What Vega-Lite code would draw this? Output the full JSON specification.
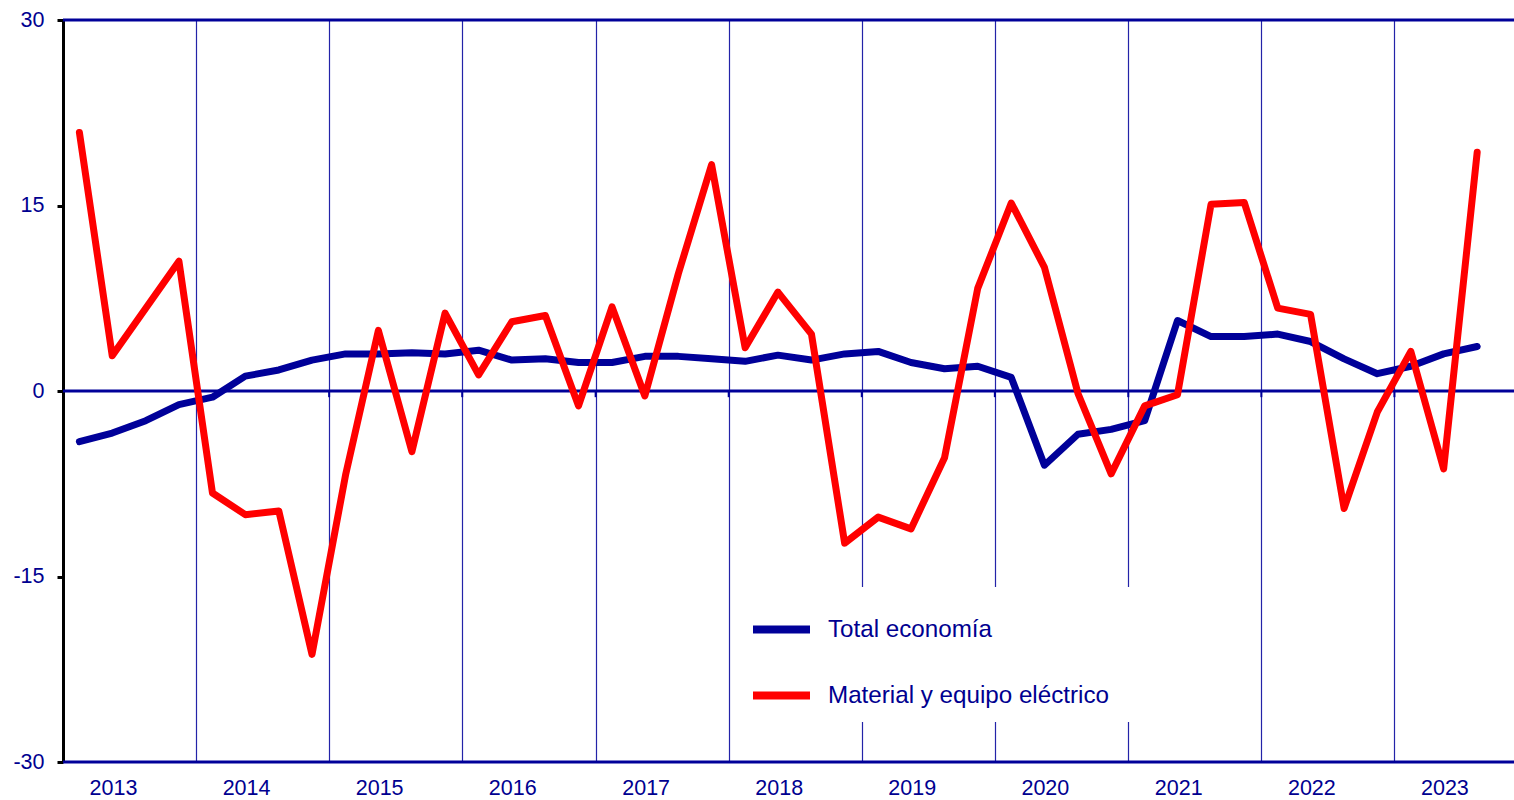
{
  "$schema": "https://vega.github.io/schema/vega-lite/v6.json",
  "width": 1451,
  "height": 742,
  "autosize": {"type": "none"},
  "padding": {"left": 63, "top": 20, "right": 0, "bottom": 38},
  "background": "white",
  "config": {"view": {"stroke": null}, "font": "Liberation Sans"},
  "layer": [
    {
      "data": {"values": [{"v": 30}, {"v": 0}, {"v": -30}]},
      "mark": {"type": "rule", "color": "#000099", "strokeWidth": 3},
      "encoding": {
        "y": {"field": "v", "type": "quantitative", "title": null, "scale": {"domain": [-30, 30], "nice": false, "zero": false}}
      }
    },
    {
      "data": {
        "values": [
          {"inicio": "2014-01-01"}, {"inicio": "2015-01-01"}, {"inicio": "2016-01-01"},
          {"inicio": "2017-01-01"}, {"inicio": "2018-01-01"}, {"inicio": "2019-01-01"},
          {"inicio": "2020-01-01"}, {"inicio": "2021-01-01"}, {"inicio": "2022-01-01"},
          {"inicio": "2023-01-01"}
        ]
      },
      "mark": {"type": "rule", "color": "#000099", "strokeWidth": 2},
      "encoding": {
        "x": {"field": "inicio", "type": "temporal"},
        "y": {"datum": 0, "type": "quantitative"},
        "y2": {"datum": -0.5}
      }
    },
    {
      "data": {
        "values": [
          {"fecha": "2013-02-15", "serie": "Total economía", "valor": -4.1},
          {"fecha": "2013-05-16", "serie": "Total economía", "valor": -3.4},
          {"fecha": "2013-08-16", "serie": "Total economía", "valor": -2.4},
          {"fecha": "2013-11-15", "serie": "Total economía", "valor": -1.1},
          {"fecha": "2014-02-15", "serie": "Total economía", "valor": -0.5},
          {"fecha": "2014-05-16", "serie": "Total economía", "valor": 1.2},
          {"fecha": "2014-08-16", "serie": "Total economía", "valor": 1.7},
          {"fecha": "2014-11-15", "serie": "Total economía", "valor": 2.5},
          {"fecha": "2015-02-15", "serie": "Total economía", "valor": 3.0},
          {"fecha": "2015-05-16", "serie": "Total economía", "valor": 3.0},
          {"fecha": "2015-08-16", "serie": "Total economía", "valor": 3.1},
          {"fecha": "2015-11-15", "serie": "Total economía", "valor": 3.0},
          {"fecha": "2016-02-15", "serie": "Total economía", "valor": 3.3},
          {"fecha": "2016-05-16", "serie": "Total economía", "valor": 2.5},
          {"fecha": "2016-08-16", "serie": "Total economía", "valor": 2.6},
          {"fecha": "2016-11-15", "serie": "Total economía", "valor": 2.3},
          {"fecha": "2017-02-15", "serie": "Total economía", "valor": 2.3},
          {"fecha": "2017-05-16", "serie": "Total economía", "valor": 2.8},
          {"fecha": "2017-08-16", "serie": "Total economía", "valor": 2.8},
          {"fecha": "2017-11-15", "serie": "Total economía", "valor": 2.6},
          {"fecha": "2018-02-15", "serie": "Total economía", "valor": 2.4},
          {"fecha": "2018-05-16", "serie": "Total economía", "valor": 2.9},
          {"fecha": "2018-08-16", "serie": "Total economía", "valor": 2.5},
          {"fecha": "2018-11-15", "serie": "Total economía", "valor": 3.0},
          {"fecha": "2019-02-15", "serie": "Total economía", "valor": 3.2},
          {"fecha": "2019-05-16", "serie": "Total economía", "valor": 2.3},
          {"fecha": "2019-08-16", "serie": "Total economía", "valor": 1.8},
          {"fecha": "2019-11-15", "serie": "Total economía", "valor": 2.0},
          {"fecha": "2020-02-15", "serie": "Total economía", "valor": 1.1},
          {"fecha": "2020-05-16", "serie": "Total economía", "valor": -6.0},
          {"fecha": "2020-08-16", "serie": "Total economía", "valor": -3.5},
          {"fecha": "2020-11-15", "serie": "Total economía", "valor": -3.1},
          {"fecha": "2021-02-15", "serie": "Total economía", "valor": -2.4},
          {"fecha": "2021-05-16", "serie": "Total economía", "valor": 5.7},
          {"fecha": "2021-08-16", "serie": "Total economía", "valor": 4.4},
          {"fecha": "2021-11-15", "serie": "Total economía", "valor": 4.4},
          {"fecha": "2022-02-15", "serie": "Total economía", "valor": 4.6},
          {"fecha": "2022-05-16", "serie": "Total economía", "valor": 4.0},
          {"fecha": "2022-08-16", "serie": "Total economía", "valor": 2.6},
          {"fecha": "2022-11-15", "serie": "Total economía", "valor": 1.4},
          {"fecha": "2023-02-15", "serie": "Total economía", "valor": 2.0},
          {"fecha": "2023-05-16", "serie": "Total economía", "valor": 3.0},
          {"fecha": "2023-08-16", "serie": "Total economía", "valor": 3.6},
          {"fecha": "2013-02-15", "serie": "Material y equipo eléctrico", "valor": 20.9},
          {"fecha": "2013-05-16", "serie": "Material y equipo eléctrico", "valor": 2.85},
          {"fecha": "2013-08-16", "serie": "Material y equipo eléctrico", "valor": 6.7},
          {"fecha": "2013-11-15", "serie": "Material y equipo eléctrico", "valor": 10.5},
          {"fecha": "2014-02-15", "serie": "Material y equipo eléctrico", "valor": -8.25},
          {"fecha": "2014-05-16", "serie": "Material y equipo eléctrico", "valor": -10.0},
          {"fecha": "2014-08-16", "serie": "Material y equipo eléctrico", "valor": -9.7},
          {"fecha": "2014-11-15", "serie": "Material y equipo eléctrico", "valor": -21.3},
          {"fecha": "2015-02-15", "serie": "Material y equipo eléctrico", "valor": -6.8},
          {"fecha": "2015-05-16", "serie": "Material y equipo eléctrico", "valor": 4.9},
          {"fecha": "2015-08-16", "serie": "Material y equipo eléctrico", "valor": -4.9},
          {"fecha": "2015-11-15", "serie": "Material y equipo eléctrico", "valor": 6.3},
          {"fecha": "2016-02-15", "serie": "Material y equipo eléctrico", "valor": 1.3},
          {"fecha": "2016-05-16", "serie": "Material y equipo eléctrico", "valor": 5.6},
          {"fecha": "2016-08-16", "serie": "Material y equipo eléctrico", "valor": 6.1},
          {"fecha": "2016-11-15", "serie": "Material y equipo eléctrico", "valor": -1.2},
          {"fecha": "2017-02-15", "serie": "Material y equipo eléctrico", "valor": 6.8},
          {"fecha": "2017-05-16", "serie": "Material y equipo eléctrico", "valor": -0.4},
          {"fecha": "2017-08-16", "serie": "Material y equipo eléctrico", "valor": 9.5},
          {"fecha": "2017-11-15", "serie": "Material y equipo eléctrico", "valor": 18.3},
          {"fecha": "2018-02-15", "serie": "Material y equipo eléctrico", "valor": 3.5},
          {"fecha": "2018-05-16", "serie": "Material y equipo eléctrico", "valor": 8.0},
          {"fecha": "2018-08-16", "serie": "Material y equipo eléctrico", "valor": 4.6},
          {"fecha": "2018-11-15", "serie": "Material y equipo eléctrico", "valor": -12.3},
          {"fecha": "2019-02-15", "serie": "Material y equipo eléctrico", "valor": -10.2},
          {"fecha": "2019-05-16", "serie": "Material y equipo eléctrico", "valor": -11.15},
          {"fecha": "2019-08-16", "serie": "Material y equipo eléctrico", "valor": -5.4},
          {"fecha": "2019-11-15", "serie": "Material y equipo eléctrico", "valor": 8.3},
          {"fecha": "2020-02-15", "serie": "Material y equipo eléctrico", "valor": 15.2},
          {"fecha": "2020-05-16", "serie": "Material y equipo eléctrico", "valor": 10.0},
          {"fecha": "2020-08-16", "serie": "Material y equipo eléctrico", "valor": -0.2},
          {"fecha": "2020-11-15", "serie": "Material y equipo eléctrico", "valor": -6.7},
          {"fecha": "2021-02-15", "serie": "Material y equipo eléctrico", "valor": -1.2},
          {"fecha": "2021-05-16", "serie": "Material y equipo eléctrico", "valor": -0.3},
          {"fecha": "2021-08-16", "serie": "Material y equipo eléctrico", "valor": 15.1},
          {"fecha": "2021-11-15", "serie": "Material y equipo eléctrico", "valor": 15.25},
          {"fecha": "2022-02-15", "serie": "Material y equipo eléctrico", "valor": 6.7},
          {"fecha": "2022-05-16", "serie": "Material y equipo eléctrico", "valor": 6.2},
          {"fecha": "2022-08-16", "serie": "Material y equipo eléctrico", "valor": -9.5},
          {"fecha": "2022-11-15", "serie": "Material y equipo eléctrico", "valor": -1.7},
          {"fecha": "2023-02-15", "serie": "Material y equipo eléctrico", "valor": 3.2},
          {"fecha": "2023-05-16", "serie": "Material y equipo eléctrico", "valor": -6.3},
          {"fecha": "2023-08-16", "serie": "Material y equipo eléctrico", "valor": 19.3}
        ]
      },
      "mark": {"type": "line", "strokeWidth": 7, "strokeCap": "round", "strokeJoin": "round"},
      "encoding": {
        "x": {
          "field": "fecha",
          "type": "temporal",
          "title": null,
          "scale": {
            "type": "utc",
            "domain": [
              {"year": 2013, "month": 1, "date": 1, "utc": true},
              {"year": 2023, "month": 11, "date": 25, "utc": true}
            ]
          },
          "axis": {
            "values": [
              {"year": 2013, "month": 1, "date": 1, "utc": true},
              {"year": 2014, "month": 1, "date": 1, "utc": true},
              {"year": 2015, "month": 1, "date": 1, "utc": true},
              {"year": 2016, "month": 1, "date": 1, "utc": true},
              {"year": 2017, "month": 1, "date": 1, "utc": true},
              {"year": 2018, "month": 1, "date": 1, "utc": true},
              {"year": 2019, "month": 1, "date": 1, "utc": true},
              {"year": 2020, "month": 1, "date": 1, "utc": true},
              {"year": 2021, "month": 1, "date": 1, "utc": true},
              {"year": 2022, "month": 1, "date": 1, "utc": true},
              {"year": 2023, "month": 1, "date": 1, "utc": true}
            ],
            "labelExpr": "utcFormat(datum.value, '%Y')",
            "labelOffset": 50,
            "labelFlush": false,
            "labelOverlap": false,
            "labelFontSize": 21.5,
            "labelColor": "#000090",
            "labelPadding": 15,
            "ticks": false,
            "domain": false,
            "grid": true,
            "gridColor": "#2323a8",
            "gridWidth": 1.2
          }
        },
        "y": {
          "field": "valor",
          "type": "quantitative",
          "title": null,
          "scale": {"domain": [-30, 30], "nice": false, "zero": false},
          "axis": {
            "values": [-30, -15, 0, 15, 30],
            "labelExpr": "'' + datum.value",
            "grid": false,
            "domainColor": "#000000",
            "domainWidth": 3,
            "tickColor": "#000000",
            "tickWidth": 3,
            "tickSize": 6,
            "labelFontSize": 21.5,
            "labelColor": "#000090",
            "labelPadding": 13
          }
        },
        "color": {
          "field": "serie",
          "type": "nominal",
          "scale": {"domain": ["Total economía", "Material y equipo eléctrico"], "range": ["#000099", "#ff0000"]},
          "legend": {
            "orient": "none",
            "legendX": 676,
            "legendY": 567,
            "title": "MM",
            "titleOpacity": 0,
            "titleOrient": "right",
            "titleFontSize": 12,
            "titlePadding": 4,
            "fillColor": "white",
            "padding": 10,
            "symbolType": "stroke",
            "symbolSize": 3249,
            "symbolStrokeWidth": 8,
            "labelFontSize": 24.2,
            "labelColor": "#000090",
            "labelOffset": 14,
            "rowPadding": 17,
            "labelLimit": 500
          }
        }
      }
    }
  ]
}
